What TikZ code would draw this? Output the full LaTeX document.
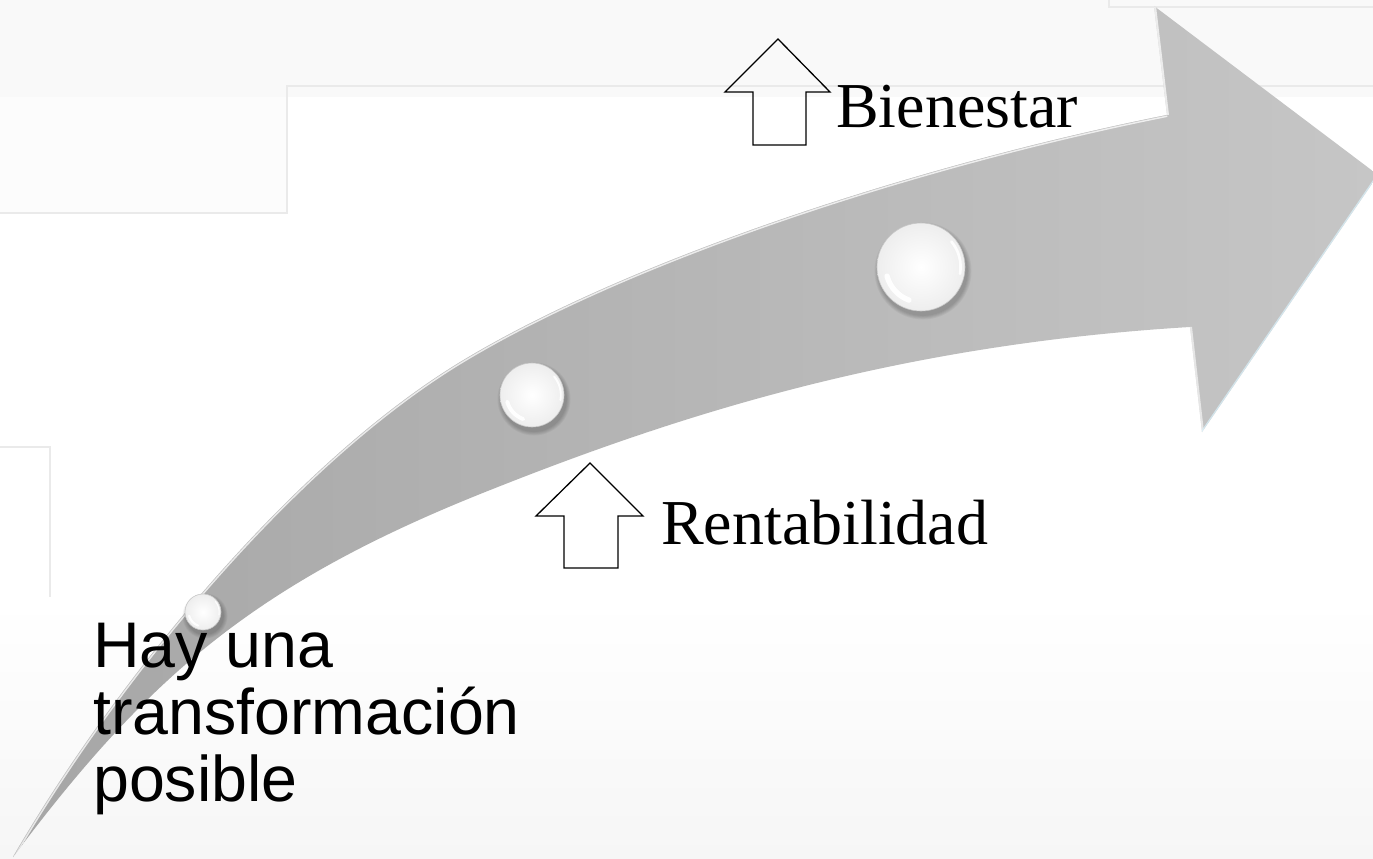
\documentclass[tikz,border=0pt]{standalone}
\usepackage{fontspec}
\setmainfont{Liberation Serif}
\newfontfamily\arialfont{Liberation Sans}
\definecolor{bgline}{HTML}{EAEAEA}
\definecolor{bandtop}{HTML}{F9F9F9}
\definecolor{bandmid}{HTML}{FCFCFC}
\definecolor{bandbot}{HTML}{F6F6F6}
\definecolor{arrowL}{HTML}{A6A6A6}
\definecolor{arrowR}{HTML}{C6C6C6}
\pgfdeclareradialshading{ballshade}{\pgfpoint{0bp}{0bp}}{color(0bp)=(white); color(22bp)=(white!94!black); color(42bp)=(white!88!black); color(50bp)=(white!80!black)}
\tikzset{
  bgstroke/.style={bgline, line width=1.5},
  upblock/.style={black, line width=1.3, line join=miter},
  seriflabel/.style={inner sep=0, anchor=base west, font=\fontsize{64}{64}\selectfont},
  sanslabel/.style={inner sep=0, anchor=base west, font=\arialfont\fontsize{64.5}{64.5}\selectfont},
}
\newcommand\glossball[3]{%
  \foreach \k in {1,...,5} {\fill[black, opacity=0.045] ({#1+2},{#2+4}) circle ({#3+\k*0.9});}
  \shade[shading=ballshade] (#1,#2) circle (#3);
  \draw[white, line width={#3*0.12}, opacity=0.95, line cap=round] ([shift={(#1,#2)}] 165:{#3*0.8}) arc[start angle=165, end angle=110, radius={#3*0.8}];
  \draw[white, line width={#3*0.06}, opacity=0.9, line cap=round] ([shift={(#1,#2)}] 10:{#3*0.9}) arc[start angle=10, end angle=-40, radius={#3*0.9}];
  \draw[black!22, line width=0.6] (#1,#2) circle (#3);
}
\def\arrowshape{(13,857) .. controls (113,684) and (292,463) .. (463.6,360) .. controls (635,257) and (922,164) .. (1167,115) -- (1154,6) -- (1378,175) -- (1202,432) -- (1190,327) .. controls (890,345) and (668.3,418.8) .. (482.7,493) .. controls (250.7,585.75) and (145,681) .. (13,857) -- cycle}
\def\upperedge{(13,857) .. controls (113,684) and (292,463) .. (463.6,360) .. controls (635,257) and (922,164) .. (1167,115)}
\begin{document}
\begin{tikzpicture}[x=1pt,y=-1pt]
\useasboundingbox (0,0) rectangle (1373,859);
% background
\fill[white] (0,0) rectangle (1373,859);
\fill[bandtop] (0,0) rectangle (1373,97);
\fill[bandmid] (0,97) rectangle (287,213);
\shade[top color=white, bottom color=bandbot] (0,600) rectangle (1373,859);
\draw[bgstroke] (0,213) -- (287,213) -- (287,86) -- (1373,86);
\draw[bgstroke] (1109,0) -- (1109,7) -- (1373,7);
\draw[bgstroke] (0,447) -- (50,447) -- (50,597);
% big curved arrow
\shade[left color=arrowL, right color=arrowR] \arrowshape;
\begin{scope}
  \clip \arrowshape;
  \draw[white, line width=4, opacity=0.75] \upperedge;
  \draw[black!25, line width=0.9] \upperedge;
  \draw[white, line width=4, opacity=0.7] (1167,115) -- (1154,6);
  \draw[white, line width=4, opacity=0.6] (1190,327) -- (1202,432);
  \draw[white!85!cyan, line width=2.5, opacity=0.7] (1202,432) -- (1378,175);
\end{scope}
% glossy markers
\glossball{203}{612}{18}
\glossball{532}{395}{32}
\glossball{921}{267}{44}
% up arrows
\draw[upblock] (778,39) -- (830,92) -- (806,92) -- (806,145) -- (753,145) -- (753,92) -- (725,92) -- cycle;
\draw[upblock] (590,463) -- (643,516) -- (618,516) -- (618,568) -- (564,568) -- (564,516) -- (536,516) -- cycle;
% labels
\node[seriflabel] (bien) at (836,127) {Bienestar};
\node[seriflabel] (rent) at (661,544) {Rentabilidad};
\node[sanslabel] (hay1) at (93,667) {Hay una};
\node[sanslabel] (hay2) at (93,734) {transformación};
\node[sanslabel] (hay3) at (93,801) {posible};
\end{tikzpicture}
\end{document}
